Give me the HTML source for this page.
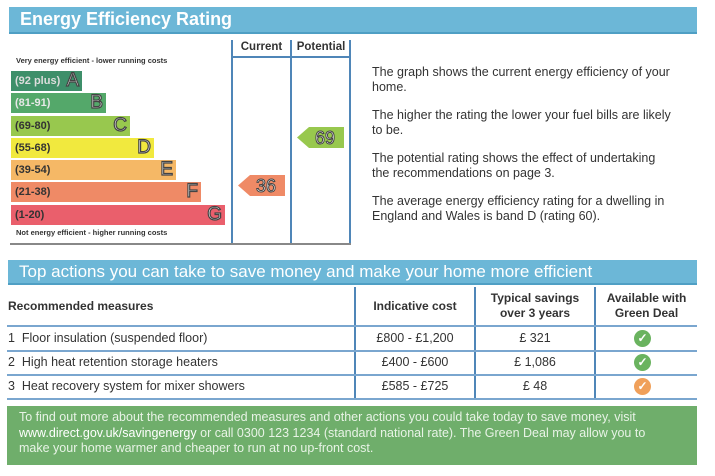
<!DOCTYPE html>
<html><head><style>
*{margin:0;padding:0;box-sizing:border-box}
body{width:715px;height:476px;background:#fff;position:relative;overflow:hidden;font-family:"Liberation Sans",Arial,sans-serif;color:#222}
.a{position:absolute}
.bar{background:#6cb7d7;color:#fff;font-weight:bold;border-bottom:2px solid #4f9fc4}
.band{position:absolute;left:11px;height:20px;font-size:11px;font-weight:bold;color:#333;line-height:20px;padding-left:4px}
.band b{position:absolute;right:3px;top:0;font-size:19px;line-height:20px;color:#fff;-webkit-text-stroke:1.2px #444;font-weight:normal}
.p{position:absolute;left:372px;width:340px;font-size:12.5px;line-height:14.5px;color:#333;white-space:nowrap}
.vl{position:absolute;width:2px;background:#4f86b8}
.hl{position:absolute;height:2px;background:#7aa6cf}
.t{position:absolute;font-size:12.5px;color:#333}
.th{font-weight:bold;text-align:center;font-size:12px}
.ck{position:absolute;width:17px;height:17px;border-radius:50%;color:#fff;font-size:12px;line-height:17px;text-align:center;font-weight:bold}
</style></head><body>
<div class="a bar" style="left:9px;top:7px;width:688px;height:27px;font-size:18px;line-height:25px;padding-left:11px">Energy Efficiency Rating</div>

<div class="vl" style="left:231px;top:40px;height:205px"></div>
<div class="vl" style="left:290px;top:40px;height:205px"></div>
<div class="vl" style="left:349px;top:40px;height:205px"></div>
<div class="hl" style="left:231px;top:56px;width:120px;background:#4f86b8"></div>
<div class="a" style="left:10px;top:243px;width:341px;height:2px;background:#888"></div>
<div class="t th" style="left:233px;top:41px;width:57px;font-size:11.5px">Current</div>
<div class="t th" style="left:292px;top:41px;width:58px;font-size:11.5px">Potential</div>
<div class="t" style="left:16px;top:56px;font-size:7.5px;font-weight:bold">Very energy efficient - lower running costs</div>
<div class="t" style="left:16px;top:228px;font-size:7.5px;font-weight:bold">Not energy efficient - higher running costs</div>

<div class="band" style="top:71px;width:71px;background:#3e8f6a;color:#ddd">(92 plus)<b>A</b></div>
<div class="band" style="top:93px;width:95px;background:#54a86a;color:#e8e8e8">(81-91)<b>B</b></div>
<div class="band" style="top:116px;width:119px;background:#98c84e">(69-80)<b>C</b></div>
<div class="band" style="top:138px;width:143px;background:#f1e93e">(55-68)<b>D</b></div>
<div class="band" style="top:160px;width:165px;background:#f5b866">(39-54)<b>E</b></div>
<div class="band" style="top:182px;width:190px;background:#ef8a66">(21-38)<b>F</b></div>
<div class="band" style="top:205px;width:214px;background:#ea5f6c">(1-20)<b>G</b></div>

<svg class="a" style="left:238px;top:175px" width="48" height="21"><polygon points="0,10.5 12,0 47,0 47,21 12,21" fill="#ef8a66"/><text x="28" y="17" font-size="18" text-anchor="middle" fill="#fff" stroke="#444" stroke-width="1" font-family="Liberation Sans">36</text></svg>
<svg class="a" style="left:297px;top:127px" width="48" height="21"><polygon points="0,10.5 12,0 47,0 47,21 12,21" fill="#98c84e"/><text x="28" y="17" font-size="18" text-anchor="middle" fill="#fff" stroke="#444" stroke-width="1" font-family="Liberation Sans">69</text></svg>

<div class="p" style="top:65px">The graph shows the current energy efficiency of your<br>home.</div>
<div class="p" style="top:108px">The higher the rating the lower your fuel bills are likely<br>to be.</div>
<div class="p" style="top:151px">The potential rating shows the effect of undertaking<br>the recommendations on page 3.</div>
<div class="p" style="top:194px">The average energy efficiency rating for a dwelling in<br>England and Wales is band D (rating 60).</div>

<div class="a bar" style="left:8px;top:260px;width:689px;height:25px;font-size:17px;line-height:24px;padding-left:11px;font-weight:normal">Top actions you can take to save money and make your home more efficient</div>

<div class="vl" style="left:354px;top:287px;height:112px"></div>
<div class="vl" style="left:474px;top:287px;height:112px"></div>
<div class="vl" style="left:594px;top:287px;height:112px"></div>
<div class="hl" style="left:7px;top:325px;width:690px"></div>
<div class="hl" style="left:7px;top:350px;width:690px"></div>
<div class="hl" style="left:7px;top:374px;width:690px"></div>
<div class="hl" style="left:7px;top:398px;width:690px"></div>

<div class="t" style="left:8px;top:299px;font-weight:bold;font-size:12px">Recommended measures</div>
<div class="t th" style="left:356px;top:299px;width:118px">Indicative cost</div>
<div class="t th" style="left:476px;top:291px;width:118px;line-height:15px">Typical savings<br>over 3 years</div>
<div class="t th" style="left:596px;top:291px;line-height:15px;width:101px">Available with<br>Green Deal</div>

<div class="t" style="left:8px;top:331px">1&nbsp; Floor insulation (suspended floor)</div>
<div class="t" style="left:8px;top:355px">2&nbsp; High heat retention storage heaters</div>
<div class="t" style="left:8px;top:379px">3&nbsp; Heat recovery system for mixer showers</div>
<div class="t" style="left:356px;top:331px;width:118px;text-align:center">£800 - £1,200</div>
<div class="t" style="left:356px;top:355px;width:118px;text-align:center">£400 - £600</div>
<div class="t" style="left:356px;top:379px;width:118px;text-align:center">£585 - £725</div>
<div class="t" style="left:476px;top:331px;width:118px;text-align:center">£ 321</div>
<div class="t" style="left:476px;top:355px;width:118px;text-align:center">£ 1,086</div>
<div class="t" style="left:476px;top:379px;width:118px;text-align:center">£ 48</div>
<div class="ck" style="left:634px;top:330px;background:#6ab35f">✓</div>
<div class="ck" style="left:634px;top:354px;background:#6ab35f">✓</div>
<div class="ck" style="left:634px;top:378px;background:#f0a05a">✓</div>

<div class="a" style="left:7px;top:406px;width:690px;height:59px;background:#6fae6b;color:#e8f3e6;font-size:12.5px;line-height:15.5px;padding:4px 0 0 12px;white-space:nowrap">To find out more about the recommended measures and other actions you could take today to save money, visit<br><span style="color:#fff">www.direct.gov.uk/savingenergy</span> or call 0300 123 1234 (standard national rate). The Green Deal may allow you to<br>make your home warmer and cheaper to run at no up-front cost.</div>
</body></html>
